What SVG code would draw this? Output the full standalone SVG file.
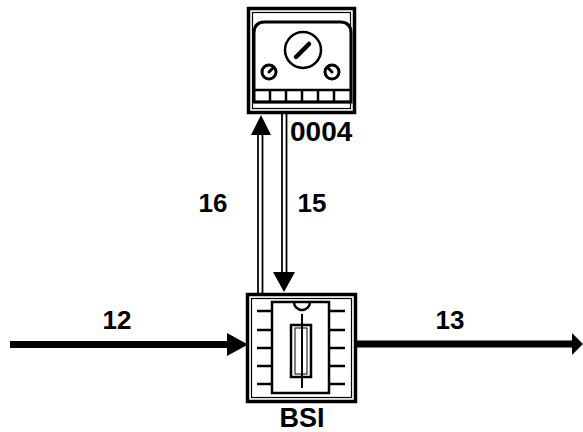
<svg xmlns="http://www.w3.org/2000/svg" width="583" height="432" viewBox="0 0 583 432">
<style>
.lbl{font-family:"Liberation Sans",Arial,sans-serif;font-weight:bold;font-size:26px;fill:#000}
.frame{fill:#fff;stroke:#000;stroke-width:3.5}
.inner{fill:none;stroke:#000;stroke-width:1.2}
.ln{fill:none;stroke:#000;stroke-width:2.5}
.dbl{stroke:#000;stroke-width:1.8;fill:none}
</style>
<rect width="583" height="432" fill="#fff"/>
<g id="connectors">
  <line x1="10" y1="344.5" x2="228" y2="344.5" stroke="#000" stroke-width="7"/>
  <polygon points="227,333 248,344.5 227,356" fill="#000"/>
  <line x1="355" y1="344" x2="573" y2="344" stroke="#000" stroke-width="7"/>
  <polygon points="572,333 583,344 572,355" fill="#000"/>
  <line class="dbl" x1="258" y1="134" x2="258" y2="293"/>
  <line class="dbl" x1="262.5" y1="134" x2="262.5" y2="293"/>
  <polygon points="251,135 261,115 271,135" fill="#000"/>
  <line class="dbl" x1="282" y1="113" x2="282" y2="273"/>
  <line class="dbl" x1="286.5" y1="113" x2="286.5" y2="273"/>
  <polygon points="273,272 284,292 295,272" fill="#000"/>
</g>
<g id="labels">
  <text class="lbl" x="117" y="329" text-anchor="middle">12</text>
  <text class="lbl" x="450" y="329" text-anchor="middle">13</text>
  <text class="lbl" x="213" y="212" text-anchor="middle">16</text>
  <text class="lbl" x="312" y="212" text-anchor="middle">15</text>
</g>
<g id="node-0004">
  <rect class="frame" x="248.5" y="8.5" width="106" height="104"/>
  <rect class="inner" x="252.5" y="12.5" width="98" height="96"/>
  <path d="M254,102 V33 Q254,22 265,22 H340 Q351,22 351,33 V102 Z" fill="none" stroke="#000" stroke-width="3"/>
  <g class="ln">
    <line x1="254" y1="90" x2="351" y2="90"/>
    <line x1="270" y1="90" x2="270" y2="102"/>
    <line x1="286" y1="90" x2="286" y2="102"/>
    <line x1="302" y1="90" x2="302" y2="102"/>
    <line x1="318" y1="90" x2="318" y2="102"/>
    <line x1="334" y1="90" x2="334" y2="102"/>
    <line x1="254" y1="102" x2="351" y2="102"/>
  </g>
  <circle cx="303" cy="50" r="18" fill="none" stroke="#000" stroke-width="2.5"/>
  <line x1="296" y1="57" x2="309" y2="44" stroke="#000" stroke-width="4.5" stroke-linecap="round"/>
  <circle cx="269" cy="72" r="7" fill="none" stroke="#000" stroke-width="3"/>
  <line x1="269" y1="72" x2="273" y2="68" stroke="#000" stroke-width="3" stroke-linecap="round"/>
  <circle cx="332" cy="72" r="7" fill="none" stroke="#000" stroke-width="3"/>
  <line x1="332" y1="72" x2="328" y2="68" stroke="#000" stroke-width="3" stroke-linecap="round"/>
  <text class="lbl" x="290" y="141" style="font-size:28px">0004</text>
</g>
<g id="node-BSI">
  <rect class="frame" x="247.5" y="294.5" width="108" height="107"/>
  <rect class="inner" x="251.5" y="298.5" width="100" height="99"/>
  <rect x="272" y="302" width="57" height="91" fill="#fff" stroke="#000" stroke-width="2.5"/>
  <path d="M294,302 A8,8 0 0 0 310,302" fill="none" stroke="#000" stroke-width="2.5"/>
  <rect x="291" y="325" width="20" height="52" fill="#fff" stroke="#000" stroke-width="2.5"/>
  <rect x="295" y="328" width="12" height="46" fill="none" stroke="#000" stroke-width="1"/>
  <line x1="302" y1="314" x2="302" y2="388" stroke="#000" stroke-width="2"/>
  <g class="ln">
    <line x1="257" y1="311" x2="272" y2="311"/>
    <line x1="257" y1="330" x2="272" y2="330"/>
    <line x1="257" y1="348" x2="272" y2="348"/>
    <line x1="257" y1="366" x2="272" y2="366"/>
    <line x1="257" y1="384" x2="272" y2="384"/>
    <line x1="329" y1="311" x2="345" y2="311"/>
    <line x1="329" y1="330" x2="345" y2="330"/>
    <line x1="329" y1="348" x2="345" y2="348"/>
    <line x1="329" y1="366" x2="345" y2="366"/>
    <line x1="329" y1="384" x2="345" y2="384"/>
  </g>
  <text class="lbl" x="302" y="427" text-anchor="middle" style="font-size:27px">BSI</text>
</g>
</svg>
